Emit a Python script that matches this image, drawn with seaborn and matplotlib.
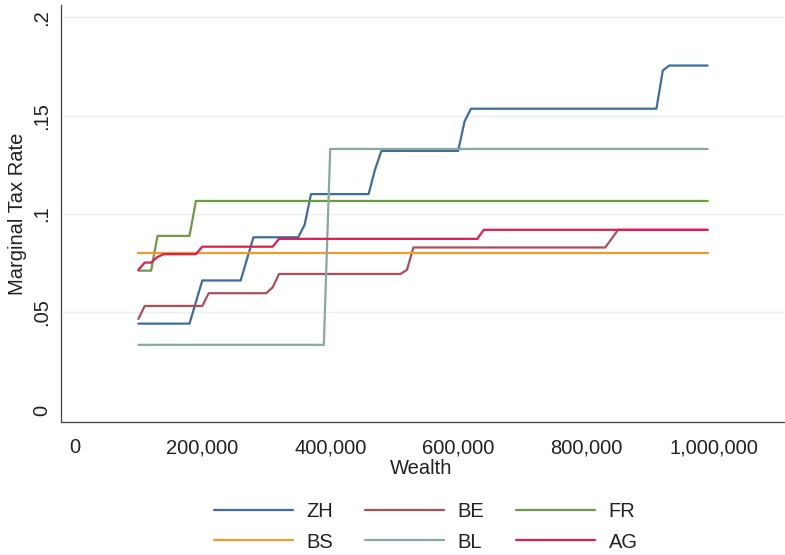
import numpy as np
import pandas as pd
import seaborn as sns
import matplotlib.pyplot as plt
from matplotlib.ticker import FuncFormatter

# vertices (wealth in CHF, marginal rate)
zh_wealth = [100000, 180000, 200000, 260000, 280000, 350000, 360000, 370000, 460000,
             470000, 480000, 600000, 610000, 620000, 910000, 920000, 930000, 990000]
zh_rate = [0.044, 0.044, 0.066, 0.066, 0.088, 0.088, 0.0944, 0.110, 0.110,
           0.1225, 0.132, 0.132, 0.147, 0.1535, 0.1535, 0.173, 0.1755, 0.1755]

be_wealth = [100000, 110000, 200000, 210000, 300000, 310000, 320000, 510000, 520000,
             530000, 830000, 850000, 990000]
be_rate = [0.0464, 0.053, 0.053, 0.0595, 0.0595, 0.0625, 0.0693, 0.0693, 0.0714,
           0.0828, 0.0828, 0.0918, 0.0918]

fr_wealth = [100000, 120000, 130000, 180000, 190000, 990000]
fr_rate = [0.071, 0.071, 0.0887, 0.0887, 0.1065, 0.1065]

bs_wealth = [100000, 990000]
bs_rate = [0.080, 0.080]

bl_wealth = [100000, 390000, 400000, 990000]
bl_rate = [0.0332, 0.0332, 0.133, 0.133]

ag_wealth = [100000, 110000, 120000, 130000, 140000, 190000, 200000, 310000, 320000,
             630000, 640000, 990000]
ag_rate = [0.0714, 0.0751, 0.0751, 0.078, 0.0794, 0.0794, 0.0832, 0.0832, 0.0872,
           0.0872, 0.0918, 0.0918]

cantons = ["ZH", "BE", "FR", "BS", "BL", "AG"]
colors = ["#3d6d9e", "#ac4d5c", "#6d9a45", "#f39a2c", "#88aa9c", "#e01c50"]

y_ticks = [0, 0.05, 0.1, 0.15, 0.2]
y_ticklabels = ["0", ".05", ".1", ".15", ".2"]
x_ticks = [0, 200000, 400000, 600000, 800000, 1000000]

series = {
    "ZH": (zh_wealth, zh_rate),
    "BE": (be_wealth, be_rate),
    "FR": (fr_wealth, fr_rate),
    "BS": (bs_wealth, bs_rate),
    "BL": (bl_wealth, bl_rate),
    "AG": (ag_wealth, ag_rate),
}
df = pd.concat(
    [pd.DataFrame({"Wealth": w, "Rate": r, "Canton": c}) for c, (w, r) in series.items()],
    ignore_index=True,
)

sns.set_theme(style="white")
plt.rcParams["font.family"] = ["Liberation Sans", "DejaVu Sans"]
plt.rcParams["text.color"] = "#222222"
fs = 14.5

fig = plt.figure(figsize=(7.85, 5.55), dpi=100)
ax = fig.add_axes([61 / 785, 1 - 422.3 / 555, 1 - 61 / 785, (422.3 - 4.7) / 555])

sns.lineplot(data=df, x="Wealth", y="Rate", hue="Canton", hue_order=cantons,
             palette=colors, estimator=None, linewidth=1.6, ax=ax)

ax.set_xlim(-20900, 1111000)
ax.set_ylim(-0.00627, 0.2065)
ax.set_yticks(y_ticks)
ax.set_yticklabels(y_ticklabels, rotation=90, va="center")
ax.set_xticks(x_ticks)
ax.xaxis.set_major_formatter(FuncFormatter(lambda v, p: f"{int(v):,}"))

for side in ["top", "right"]:
    ax.spines[side].set_visible(False)
for side in ["left", "bottom"]:
    ax.spines[side].set_color("#444444")
    ax.spines[side].set_linewidth(0.9)

ax.tick_params(axis="both", which="major", direction="out", length=6, width=0.8,
               color="#444444", labelsize=fs, labelcolor="#222222")
ax.tick_params(axis="x", pad=5.5)
ax.tick_params(axis="y", pad=1)

ax.yaxis.grid(True, color="#e8f1f2", linewidth=1.0)
ax.xaxis.grid(False)
ax.yaxis.get_gridlines()[0].set_visible(False)

ax.set_xlabel("Wealth", fontsize=fs, color="#222222")
ax.set_ylabel("Marginal Tax Rate", fontsize=fs, color="#222222")
ax.xaxis.set_label_coords(0.4975, -0.088)
ax.yaxis.set_label_coords(-0.0464, 0.5)

handles, labels = ax.get_legend_handles_labels()
ax.get_legend().remove()
order = [0, 3, 1, 4, 2, 5]
fig.legend([handles[i] for i in order], [labels[i] for i in order],
           ncol=3, frameon=False, loc="center", bbox_to_anchor=(426 / 785, 0.0505),
           fontsize=fs, handlelength=3.9, handletextpad=0.68, columnspacing=1.59,
           labelspacing=0.55)

fig.savefig("out.png", dpi=100)
